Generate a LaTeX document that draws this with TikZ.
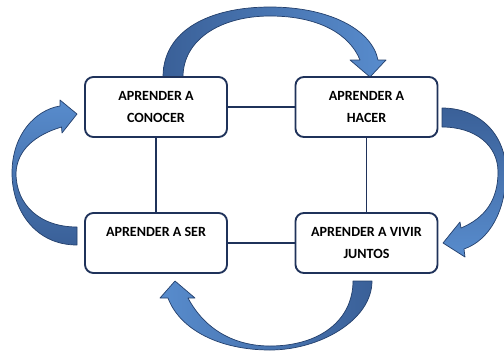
\documentclass[tikz,border=0pt]{standalone}
\usepackage{fontspec}
\setmainfont{Carlito}
\definecolor{boxline}{RGB}{31,50,90}
\definecolor{arrowlight}{RGB}{88,140,205}
\definecolor{arrowdark}{RGB}{58,96,152}
\definecolor{arrowedge}{RGB}{36,64,108}

\begin{document}
\begin{tikzpicture}[x=0.03cm, y=-0.03cm,
    box/.style={draw=boxline, line width=1.6pt, rounded corners=0.25cm, fill=white,
      minimum width=4.26cm, minimum height=1.8cm, inner sep=0pt, align=center,
      font=\fontsize{12}{19.6}\selectfont\bfseries},
    link/.style={draw=boxline, line width=1.3pt},
    bigarrow/.style={draw=arrowedge, line width=0.6pt, line join=round}]
  \useasboundingbox (0,0) rectangle (504,355);

  % curved arrows
  \path[bigarrow, left color=arrowdark, right color=arrowlight] (163,77) .. controls (163,30) and (210,7) .. (270,7)
    .. controls (330,7) and (372,30) .. (378,60) -- (386,60) -- (370,77) -- (350,60) -- (360,60)
    .. controls (350,35) and (320,16) .. (270,16)
    .. controls (220,16) and (183,40) .. (183,77) -- cycle;
  \path[bigarrow, top color=arrowdark, bottom color=arrowlight] (442,108) .. controls (480,108) and (506,135) .. (506,172)
    .. controls (506,210) and (490,240) .. (464,249) -- (465,257) -- (443,243) -- (460,222) -- (461,228)
    .. controls (485,218) and (498,200) .. (498,172)
    .. controls (498,145) and (475,127) .. (442,127) -- cycle;
  \path[bigarrow, right color=arrowdark, left color=arrowlight] (372,281) .. controls (372,320) and (320,350) .. (270,350)
    .. controls (220,350) and (180,330) .. (168,298) -- (160,298) -- (175,281) -- (195,298) -- (188,298)
    .. controls (205,330) and (235,346) .. (270,346)
    .. controls (320,346) and (353,320) .. (353,281) -- cycle;
  \path[bigarrow, bottom color=arrowdark, top color=arrowlight] (77,245) .. controls (35,245) and (12,210) .. (12,173)
    .. controls (12,135) and (35,110) .. (60,106) -- (60,100) -- (77,114) -- (62,133) -- (61.5,127)
    .. controls (35,135) and (17,150) .. (16,173)
    .. controls (16,205) and (40,227) .. (77,227) -- cycle;

  % boxes
  \node[box] (conocer) at (156,107) {APRENDER A\\CONOCER};
  \node[box] (hacer) at (366.5,107) {APRENDER A\\HACER};
  \node[box] (ser) at (156,243) {APRENDER A SER\\\mbox{}};
  \node[box] (juntos) at (366.5,243) {APRENDER A VIVIR\\JUNTOS};

  % links
  \draw[link] (conocer) -- (hacer);
  \draw[link] (ser) -- (juntos);
  \draw[link] (conocer) -- (ser);
  \draw[link] (hacer) -- (juntos);
\end{tikzpicture}
\end{document}
